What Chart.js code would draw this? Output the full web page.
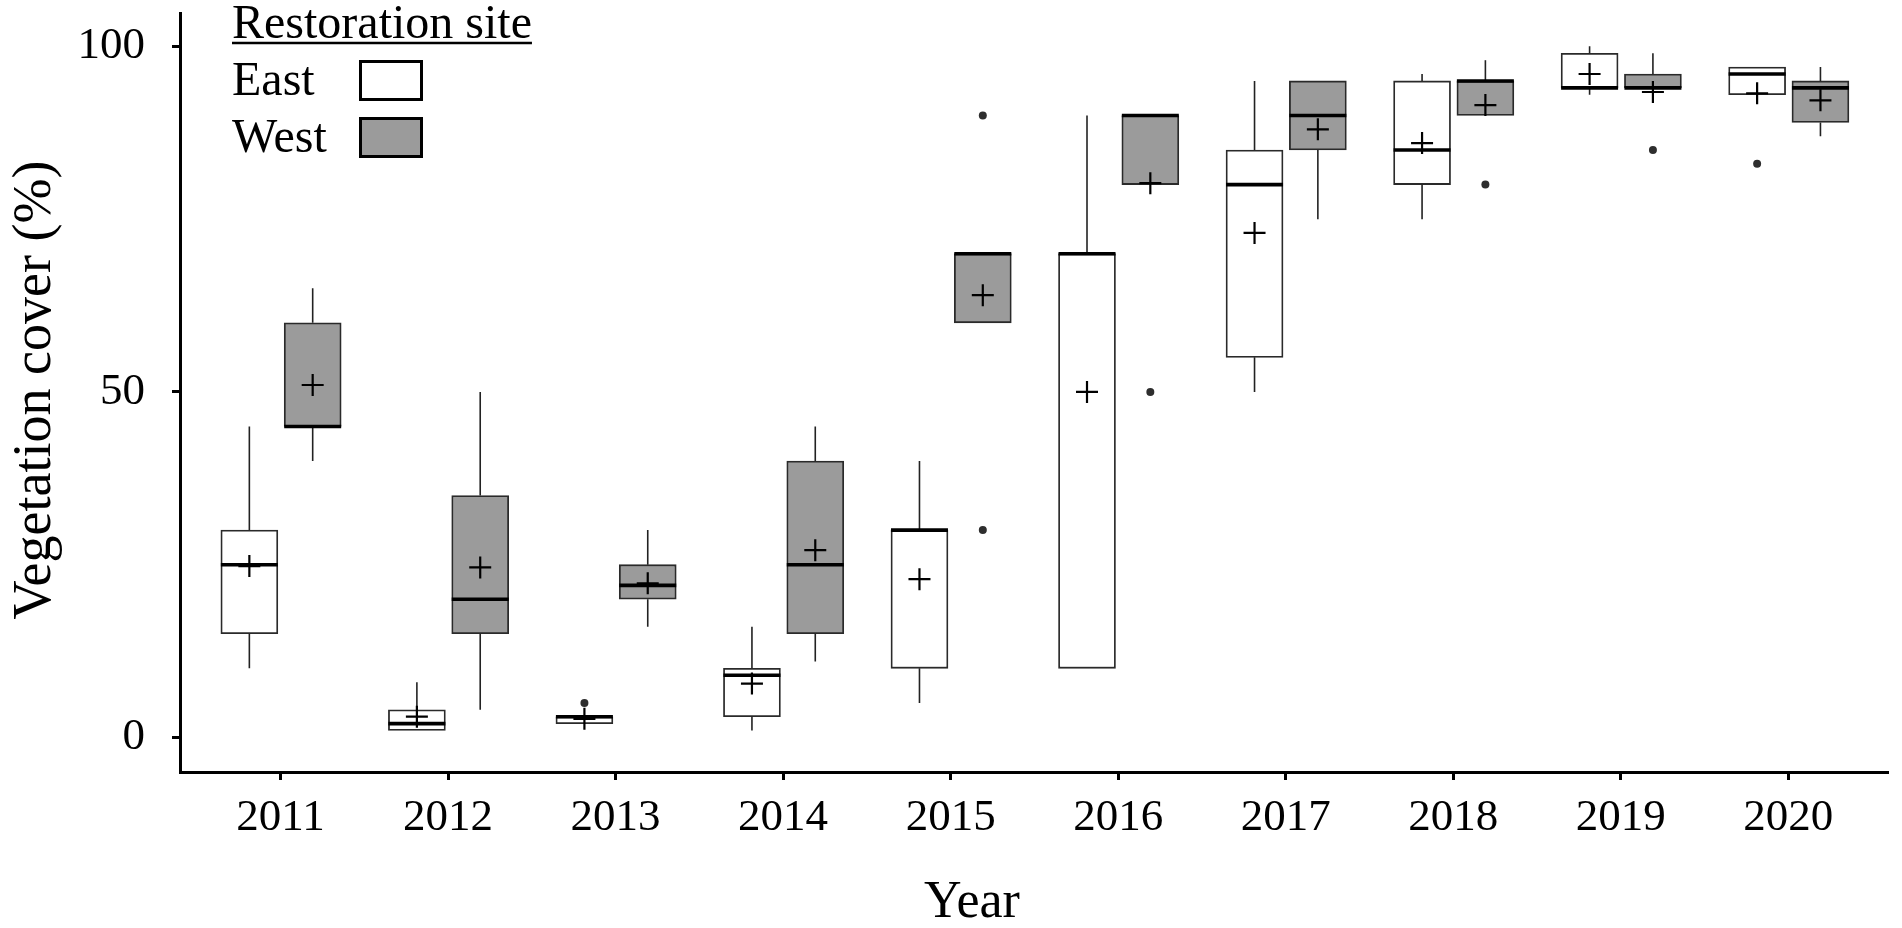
<!DOCTYPE html>
<html><head><meta charset="utf-8">
<script src="https://cdn.jsdelivr.net/npm/chart.js@4.4.1/dist/chart.umd.min.js"></script>
<style>html,body{margin:0;padding:0;background:#fff;overflow:hidden}canvas{display:block}</style>
</head><body>
<canvas id="c" width="1902" height="928"></canvas>
<script>
// ---------- data ----------
const years = [2011, 2012, 2013, 2014, 2015, 2016, 2017, 2018, 2019, 2020];
const yTicks = [0, 50, 100];
const legendTitle = 'Restoration site';
const xTitle = 'Year';
const yTitle = 'Vegetation cover (%)';

const eastLow    = [10, 1, 2, 1, 5, 10, 50, 75, 93, 93];
const eastQ1     = [15, 1, 2, 3, 10, 10, 55, 80, 94, 93];
const eastMedian = [25, 2, 3, 9, 30, 70, 80, 85, 94, 96];
const eastQ3     = [30, 4, 3, 10, 30, 70, 85, 95, 99, 97];
const eastHigh   = [45, 8, 3, 16, 40, 90, 95, 96, 100, 97];
const eastMean   = [24.8, 3, 2.7, 7.8, 22.9, 50, 73, 86, 96, 93.2];
const eastOutliers = [[], [], [5], [], [], [], [], [], [], [83]];

const westLow    = [40, 4, 16, 11, 60, 80, 75, 90, 92, 87];
const westQ1     = [45, 15, 20, 15, 60, 80, 85, 90, 94, 89];
const westMedian = [45, 20, 22, 25, 70, 90, 90, 95, 94, 94];
const westQ3     = [60, 35, 25, 40, 70, 90, 95, 95, 96, 95];
const westHigh   = [65, 50, 30, 45, 70, 90, 95, 98, 99, 97];
const westMean   = [51, 24.6, 22.3, 27.1, 64, 80.2, 88, 91.5, 93.4, 92.2];
const westOutliers = [[], [], [], [], [30, 90], [50], [], [80], [85], []];

// ---------- styling ----------
const FONT = '"Liberation Serif", "Times New Roman", serif';
const GRAY = '#9b9b9b';
const OFF_EAST = -0.186, OFF_WEST = 0.192;
const BOX_W = 57;

function boxSet(label, off, lo, q1, med, q3, hi, fill) {
  return {
    type: 'bar', label, order: 3, isBox: true,
    data: years.map((yr, i) => ({x: yr + off, y: [q1[i], q3[i]], lo: lo[i], med: med[i], hi: hi[i]})),
    backgroundColor: fill, borderColor: '#2a2a2a', borderWidth: 1.8, borderSkipped: false,
    barThickness: BOX_W, grouped: false
  };
}
function meanSet(label, off, mean) {
  return {
    type: 'scatter', label, order: 1,
    data: years.map((yr, i) => ({x: yr + off, y: mean[i]})),
    pointStyle: 'cross', pointRadius: 11, pointBorderWidth: 2.2,
    borderColor: '#000', backgroundColor: '#000', pointHoverRadius: 11
  };
}
function outlierSet(label, off, outs) {
  const pts = [];
  years.forEach((yr, i) => outs[i].forEach(v => pts.push({x: yr + off, y: v})));
  return {
    type: 'scatter', label, order: 2, data: pts,
    pointStyle: 'circle', pointRadius: 4, pointBorderWidth: 0,
    backgroundColor: '#2e2e2e', borderColor: '#2e2e2e'
  };
}

const datasets = [
  boxSet('East', OFF_EAST, eastLow, eastQ1, eastMedian, eastQ3, eastHigh, '#ffffff'),
  boxSet('West', OFF_WEST, westLow, westQ1, westMedian, westQ3, westHigh, GRAY),
  meanSet('East mean', OFF_EAST, eastMean),
  meanSet('West mean', OFF_WEST, westMean),
  outlierSet('East outliers', OFF_EAST, eastOutliers),
  outlierSet('West outliers', OFF_WEST, westOutliers)
];

const boxExtras = {
  id: 'boxExtras',
  afterDatasetDraw(chart, args) {
    const ds = chart.data.datasets[args.index];
    if (!ds.isBox) return;
    const ctx = chart.ctx, xs = chart.scales.x, ys = chart.scales.y;
    ctx.save();
    ds.data.forEach(d => {
      const px = xs.getPixelForValue(d.x);
      const yq1 = ys.getPixelForValue(d.y[0]), yq3 = ys.getPixelForValue(d.y[1]);
      const ylo = ys.getPixelForValue(d.lo), yhi = ys.getPixelForValue(d.hi);
      ctx.strokeStyle = '#222'; ctx.lineWidth = 1.6;
      ctx.beginPath();
      if (d.hi > d.y[1]) { ctx.moveTo(px, yq3); ctx.lineTo(px, yhi); }
      if (d.lo < d.y[0]) { ctx.moveTo(px, yq1); ctx.lineTo(px, ylo); }
      ctx.stroke();
      const ym = ys.getPixelForValue(d.med);
      ctx.strokeStyle = '#000'; ctx.lineWidth = 3.6;
      ctx.beginPath(); ctx.moveTo(px - BOX_W / 2, ym); ctx.lineTo(px + BOX_W / 2, ym); ctx.stroke();
    });
    ctx.restore();
  }
};

const decorations = {
  id: 'decorations',
  afterDraw(chart) {
    const ctx = chart.ctx;
    ctx.save();
    ctx.fillStyle = '#000';
    // y title
    ctx.font = '54px ' + FONT;
    ctx.translate(50, 390);
    ctx.rotate(-Math.PI / 2);
    ctx.textAlign = 'center'; ctx.textBaseline = 'alphabetic';
    ctx.fillText(yTitle, 0, 0);
    ctx.setTransform(1, 0, 0, 1, 0, 0);
    // x title
    ctx.font = '52px ' + FONT;
    ctx.textAlign = 'center'; ctx.textBaseline = 'alphabetic';
    ctx.fillText(xTitle, 972, 917);
    // legend
    ctx.font = '48px ' + FONT;
    ctx.textAlign = 'left';
    ctx.fillText(legendTitle, 232, 38);
    const tw = ctx.measureText(legendTitle).width;
    ctx.strokeStyle = '#000'; ctx.lineWidth = 2.5;
    ctx.beginPath(); ctx.moveTo(232, 43); ctx.lineTo(232 + tw, 43); ctx.stroke();
    const boxes = chart.data.datasets.filter(d => d.isBox);
    const rowsBase = [95, 152], rowsTop = [61.5, 118.5];
    boxes.forEach((d, i) => {
      ctx.fillStyle = '#000';
      ctx.fillText(d.label, 232, rowsBase[i]);
      ctx.fillStyle = d.backgroundColor;
      ctx.fillRect(360.5, rowsTop[i], 61, 38);
      ctx.lineWidth = 3; ctx.strokeStyle = '#000';
      ctx.strokeRect(360.5, rowsTop[i], 61, 38);
    });
    ctx.restore();
  }
};

new Chart(document.getElementById('c'), {
  type: 'bar',
  data: {datasets},
  plugins: [boxExtras, decorations],
  options: {
    responsive: false, animation: false, devicePixelRatio: 1,
    layout: {padding: {top: 10, right: 6, bottom: 0, left: 0}},
    plugins: {legend: {display: false}, tooltip: {enabled: false}},
    events: [],
    scales: {
      x: {
        type: 'linear', min: 2010.4, max: 2020.6, offset: false,
        afterBuildTicks: s => { s.ticks = years.map(v => ({value: v})); },
        afterFit: s => { s.height = 156; s.paddingLeft = 0; s.paddingRight = 0; },
        ticks: {font: {family: FONT, size: 45}, color: '#000', padding: 11, callback: v => String(v), maxRotation: 0, autoSkip: false},
        grid: {display: true, offset: false, drawOnChartArea: false, drawTicks: true, tickLength: 8, tickWidth: 3, tickColor: '#000'},
        border: {display: true, color: '#000', width: 3}
      },
      y: {
        type: 'linear', min: -5, max: 104.8,
        afterBuildTicks: s => { s.ticks = yTicks.map(v => ({value: v})); },
        afterFit: s => { s.width = 180; s.paddingTop = 0; s.paddingBottom = 0; },
        ticks: {font: {family: FONT, size: 45}, color: '#000', padding: 27, callback: v => String(v), autoSkip: false},
        grid: {display: true, drawOnChartArea: false, drawTicks: true, tickLength: 8, tickWidth: 3, tickColor: '#000'},
        border: {display: true, color: '#000', width: 3}
      }
    }
  }
});
</script>
</body></html>
